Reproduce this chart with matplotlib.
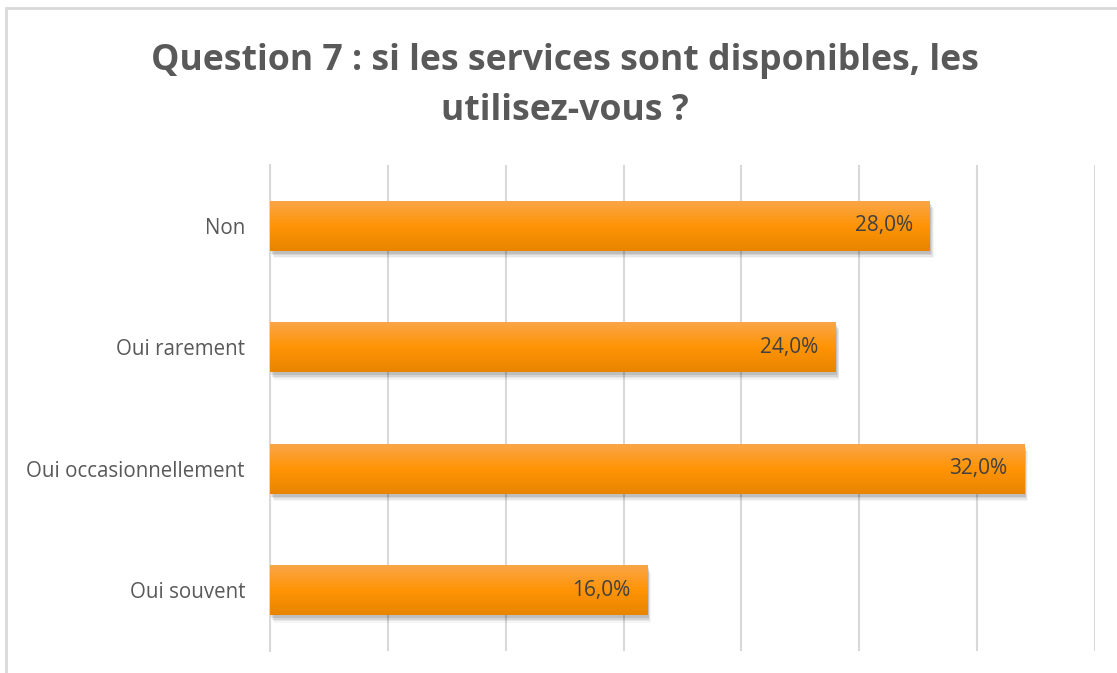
import matplotlib.pyplot as plt
import matplotlib.patches as mpatches
import numpy as np

# data
categories = ["Oui souvent", "Oui occasionnellement", "Oui rarement", "Non"]
values = [16.0, 32.0, 24.0, 28.0]
value_labels = ["16,0%", "32,0%", "24,0%", "28,0%"]
title_text = "Question 7 : si les services sont disponibles, les\nutilisez-vous ?"

plt.rcParams['font.family'] = ['Open Sans', 'DejaVu Sans']

fig = plt.figure(figsize=(11.17, 6.73), dpi=100)
fig.patch.set_facecolor('white')

# light grey chart frame (runs off the right/bottom of the picture)
frame = mpatches.Rectangle((6 / 1117, -0.1), 1.2, 1 - 8 / 673 + 0.1,
                           transform=fig.transFigure, fill=False,
                           edgecolor='#d9d9d9', linewidth=2)
fig.add_artist(frame)

ax = fig.add_axes([270 / 1117, 22 / 673, 825 / 1117, 486 / 673])
ax.set_xlim(0, 35)
ax.set_ylim(-0.5, len(categories) - 0.5)

y = np.arange(len(categories))
bar_h = 0.41

# vertical gradient for the bars: lighter top, darker bottom
grad_top = np.array([0.98, 0.65, 0.28])
grad_mid = np.array([1.0, 0.58, 0.02])
grad_bot = np.array([0.91, 0.52, 0.0])
t = np.linspace(0, 1, 64)[:, None]
cols = np.where(t < 0.5,
                grad_top + (grad_mid - grad_top) * (t / 0.5),
                grad_mid + (grad_bot - grad_mid) * ((t - 0.5) / 0.5))
gradient = cols[:, None, :]

bars = ax.barh(y, values, height=bar_h, color='none', zorder=3)
for b, v in zip(bars, values):
    x0, y0 = b.get_x(), b.get_y()
    w, h = b.get_width(), b.get_height()
    # soft shadow under the bar
    for k, a in enumerate([0.10, 0.08, 0.06, 0.04]):
        sh = mpatches.Rectangle((x0 + 0.06 + k * 0.03, y0 - 0.025 - k * 0.012), w, h,
                                facecolor='black', edgecolor='none', alpha=a, zorder=2)
        ax.add_patch(sh)
    im = ax.imshow(gradient, extent=[x0, x0 + w, y0, y0 + h], aspect='auto',
                   origin='upper', zorder=3.5)
    clip = mpatches.Rectangle((x0, y0), w, h, transform=ax.transData)
    im.set_clip_path(clip)

for yi, v, lab in zip(y, values, value_labels):
    ax.text(v - 0.72, yi, lab, ha='right', va='center', fontsize=15,
            color='#404040', zorder=5)

ax.set_yticks(y)
ax.set_yticklabels(categories, fontsize=14.8, color='#595959')
ax.tick_params(axis='y', length=0, pad=18)
ax.set_xticks(np.arange(0, 36, 5))
ax.tick_params(axis='x', length=0, labelbottom=False)
ax.grid(axis='x', color='#d9d9d9', linewidth=1.5, zorder=0)
ax.set_axisbelow(True)
for s in ['top', 'right', 'bottom']:
    ax.spines[s].set_visible(False)
ax.spines['left'].set_color('#d9d9d9')
ax.spines['left'].set_linewidth(1.5)

fig.text(565 / 1117, 1 - 86 / 673, title_text, ha='center', va='center',
         fontsize=25.7, fontweight='bold', color='#595959', linespacing=1.55)

fig.savefig('out.png', dpi=100)
